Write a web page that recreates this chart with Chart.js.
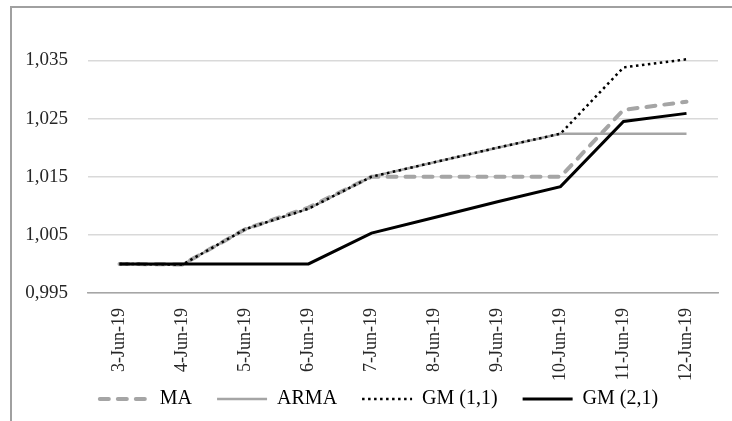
<!DOCTYPE html>
<html>
<head>
<meta charset="utf-8">
<script src="https://cdn.jsdelivr.net/npm/chart.js@4.4.1/dist/chart.umd.min.js"></script>
<style>
  html, body { margin: 0; padding: 0; background: #fff; overflow: hidden; }
  #wrap { width: 732px; height: 421px; overflow: hidden; }
</style>
</head>
<body>
<div id="wrap"><canvas id="myChart" width="758" height="421"></canvas></div>
<script>
var ctx = document.getElementById('myChart').getContext('2d');

// Datas das previsões
var dias = ['3-Jun-19', '4-Jun-19', '5-Jun-19', '6-Jun-19', '7-Jun-19',
            '8-Jun-19', '9-Jun-19', '10-Jun-19', '11-Jun-19', '12-Jun-19'];

// Séries de cada modelo
var serie_MA   = [1.0000, 0.9999, 1.0060, 1.0097, 1.0150, 1.0150, 1.0150, 1.0150, 1.0265, 1.0279];
var serie_ARMA = [1.0000, 0.9999, 1.0060, 1.0095, 1.0150, 1.0175, 1.0200, 1.0224, 1.0224, 1.0224];
var serie_GM11 = [1.0000, 0.9999, 1.0060, 1.0095, 1.0150, 1.0175, 1.0200, 1.0224, 1.0338, 1.0352];
var serie_GM21 = [1.0000, 1.0000, 1.0000, 1.0000, 1.0053, 1.0080, 1.0107, 1.0133, 1.0245, 1.0259];

// Marcas do eixo Y
var ticksY = [0.995, 1.005, 1.015, 1.025, 1.035];

var fonte = 'Liberation Serif, Times New Roman, serif';

// Moldura do gráfico (só a esquerda e o topo aparecem)
var moldura = {
    id: 'moldura',
    beforeDraw: function (chart) {
        var c = chart.ctx;
        c.save();
        c.fillStyle = '#fff';
        c.fillRect(0, 0, chart.width, chart.height);
        c.strokeStyle = '#a0a0a0';
        c.lineWidth = 2;
        c.beginPath();
        c.moveTo(11, chart.height);
        c.lineTo(11, 7);
        c.lineTo(chart.width, 7);
        c.stroke();
        c.restore();
    }
};

// Os rótulos podem passar da caixa do eixo sem serem cortados
function semCorte(scale) {
    scale._computeLabelArea = function () { return null; };
}

var config = {
    type: 'line',
    data: {
        labels: dias,
        datasets: [
            {
                label: 'MA',
                data: serie_MA,
                borderColor: '#a5a5a5',
                borderWidth: 4,
                borderDash: [9, 9],
                borderCapStyle: 'round',
                order: 4
            },
            {
                label: 'ARMA',
                data: serie_ARMA,
                borderColor: '#a5a5a5',
                borderWidth: 2.5,
                order: 3
            },
            {
                label: 'GM (1,1)',
                data: serie_GM11,
                borderColor: '#000',
                borderWidth: 2.5,
                borderDash: [2.5, 3.5],
                order: 2
            },
            {
                label: 'GM (2,1)',
                data: serie_GM21,
                borderColor: '#000',
                borderWidth: 3,
                order: 1
            }
        ]
    },
    options: {
        responsive: false,
        animation: false,
        tension: 0,
        pointRadius: 0,
        layout: { padding: { left: 40, right: 40, top: 31, bottom: 2 } },
        plugins: {
            tooltip: { enabled: false },
            legend: {
                position: 'bottom',
                labels: {
                    usePointStyle: true,
                    pointStyleWidth: 50,
                    padding: 25,
                    color: '#262626',
                    font: { family: fonte, size: 20 },
                    generateLabels: function (chart) {
                        return chart.data.datasets.map(function (ds, i) {
                            return {
                                text: ds.label,
                                datasetIndex: i,
                                pointStyle: 'line',
                                strokeStyle: ds.borderColor,
                                fillStyle: ds.borderColor,
                                lineWidth: ds.borderWidth,
                                lineDash: ds.borderDash || [],
                                lineCap: ds.borderCapStyle || 'butt',
                                hidden: false
                            };
                        });
                    }
                }
            }
        },
        scales: {
            x: {
                offset: true,
                grid: { display: false },
                border: { color: '#a6a6a6', width: 1.5 },
                afterFit: function (scale) { scale.height = 71; semCorte(scale); },
                ticks: {
                    minRotation: 90,
                    maxRotation: 90,
                    padding: 7,
                    color: '#262626',
                    font: { family: fonte, size: 18 }
                }
            },
            y: {
                min: 0.995,
                max: 1.040,
                border: { display: false },
                grid: { color: '#d9d9d9', lineWidth: 1.5, drawTicks: false },
                afterFit: function (scale) { scale.width = 48; semCorte(scale); },
                afterBuildTicks: function (scale) {
                    scale.ticks = ticksY.map(function (v) { return { value: v }; });
                },
                ticks: {
                    padding: 20,
                    color: '#262626',
                    font: { family: fonte, size: 19 },
                    callback: function (v) { return v.toFixed(3).replace('.', ','); }
                }
            }
        }
    },
    plugins: [moldura]
};

var chart = new Chart(ctx, config);
</script>
</body>
</html>
